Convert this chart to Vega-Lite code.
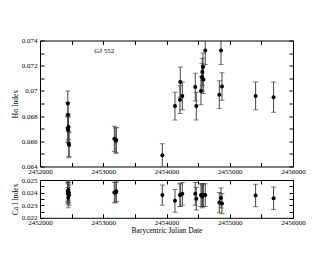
{
  "$schema": "https://vega.github.io/schema/vega-lite/v6.json",
  "autosize": {"type": "pad"},
  "padding": {"left": 10, "top": 35.5, "right": 0, "bottom": 0},
  "background": "white",
  "config": {
    "font": "Liberation Serif",
    "view": {"stroke": "black", "strokeWidth": 1},
    "axis": {"grid": false, "domain": false, "tickColor": "black", "tickSize": -4, "labelFontSize": 7, "labelColor": "black", "titleFontSize": 7.5, "titleFontWeight": "normal", "titleColor": "black", "labelFlush": false, "labelOverlap": false}
  },
  "bounds": "flush",
  "spacing": 13.5,
  "data": {"values": [
    {"date": 2452440, "ha": 0.0690, "ha_err": 0.0010, "ca": 0.0241, "ca_err": 0.0008},
    {"date": 2452442, "ha": 0.0681, "ha_err": 0.0010, "ca": 0.0240, "ca_err": 0.0008},
    {"date": 2452438, "ha": 0.0670, "ha_err": 0.0010, "ca": 0.0239, "ca_err": 0.0008},
    {"date": 2452450, "ha": 0.06715, "ha_err": 0.0010, "ca": 0.0242, "ca_err": 0.0008},
    {"date": 2452446, "ha": 0.0669, "ha_err": 0.0010, "ca": 0.0236, "ca_err": 0.0008},
    {"date": 2452455, "ha": 0.0658, "ha_err": 0.0010, "ca": 0.0240, "ca_err": 0.0008},
    {"date": 2452460, "ha": 0.0657, "ha_err": 0.0010, "ca": 0.0238, "ca_err": 0.0008},
    {"date": 2453175, "ha": 0.0662, "ha_err": 0.0010, "ca": 0.0240, "ca_err": 0.0008},
    {"date": 2453206, "ha": 0.0661, "ha_err": 0.0010, "ca": 0.0241, "ca_err": 0.0008},
    {"date": 2453200, "ha": 0.06605, "ha_err": 0.0010, "ca": 0.0240, "ca_err": 0.0008},
    {"date": 2453934, "ha": 0.0649, "ha_err": 0.0009, "ca": 0.0238, "ca_err": 0.0008},
    {"date": 2454134, "ha": 0.0688, "ha_err": 0.0011, "ca": 0.02335, "ca_err": 0.0009},
    {"date": 2454218, "ha": 0.0707, "ha_err": 0.0012, "ca": 0.0238, "ca_err": 0.0009},
    {"date": 2454213, "ha": 0.0693, "ha_err": 0.0011, "ca": 0.0238, "ca_err": 0.0009},
    {"date": 2454250, "ha": 0.0696, "ha_err": 0.0011, "ca": 0.0239, "ca_err": 0.0009},
    {"date": 2454455, "ha": 0.0703, "ha_err": 0.0011, "ca": 0.0239, "ca_err": 0.0009},
    {"date": 2454471, "ha": 0.0688, "ha_err": 0.0011, "ca": 0.02351, "ca_err": 0.0009},
    {"date": 2454545, "ha": 0.0700, "ha_err": 0.0011, "ca": 0.0238, "ca_err": 0.0009},
    {"date": 2454561, "ha": 0.0711, "ha_err": 0.0011, "ca": 0.0238, "ca_err": 0.0009},
    {"date": 2454566, "ha": 0.0715, "ha_err": 0.0011, "ca": 0.0237, "ca_err": 0.0009},
    {"date": 2454577, "ha": 0.0719, "ha_err": 0.0011, "ca": 0.0238, "ca_err": 0.0009},
    {"date": 2454582, "ha": 0.0709, "ha_err": 0.0011, "ca": 0.0238, "ca_err": 0.0009},
    {"date": 2454613, "ha": 0.0732, "ha_err": 0.0011, "ca": 0.0238, "ca_err": 0.0009},
    {"date": 2454835, "ha": 0.0697, "ha_err": 0.0011, "ca": 0.02321, "ca_err": 0.0008},
    {"date": 2454862, "ha": 0.0732, "ha_err": 0.0011, "ca": 0.02357, "ca_err": 0.0008},
    {"date": 2454877, "ha": 0.07035, "ha_err": 0.0011, "ca": 0.02313, "ca_err": 0.0008},
    {"date": 2455409, "ha": 0.0696, "ha_err": 0.0011, "ca": 0.02377, "ca_err": 0.0009},
    {"date": 2455693, "ha": 0.0695, "ha_err": 0.0012, "ca": 0.02355, "ca_err": 0.0009}
  ]},
  "vconcat": [
    {
      "width": 253,
      "height": 126,
      "layer": [
        {
          "mark": {"type": "errorbar", "ticks": {"size": 5, "color": "#444"}, "color": "#444", "clip": true, "thickness": 1},
          "encoding": {
            "x": {"field": "date", "type": "quantitative", "scale": {"domain": [2452000, 2456000], "nice": false, "zero": false},
              "axis": {"orient": "bottom", "title": null, "values": [2452000, 2452500, 2453000, 2453500, 2454000, 2454500, 2455000, 2455500, 2456000], "labelExpr": "datum.value % 1000 == 0 ? format(datum.value, 'd') : ''", "labelPadding": 5}},
            "y": {"field": "ha", "type": "quantitative", "scale": {"domain": [0.064, 0.074], "nice": false, "zero": false},
              "axis": {"orient": "left", "title": "Hα Index", "values": [0.064, 0.065, 0.066, 0.067, 0.068, 0.069, 0.07, 0.071, 0.072, 0.073, 0.074], "labelExpr": "round(datum.value * 1000) % 2 == 0 ? format(datum.value, '~g') : ''", "labelPadding": 7, "titlePadding": 2}},
            "yError": {"field": "ha_err"}
          }
        },
        {
          "mark": {"type": "point", "filled": true, "color": "black", "size": 16, "opacity": 1, "clip": true},
          "encoding": {
            "x": {"field": "date", "type": "quantitative", "scale": {"domain": [2452000, 2456000], "nice": false, "zero": false},
              "axis": {"orient": "top", "title": null, "labels": false, "values": [2452000, 2452500, 2453000, 2453500, 2454000, 2454500, 2455000, 2455500, 2456000]}},
            "y": {"field": "ha", "type": "quantitative", "scale": {"domain": [0.064, 0.074], "nice": false, "zero": false},
              "axis": {"orient": "right", "title": null, "labels": false, "values": [0.064, 0.065, 0.066, 0.067, 0.068, 0.069, 0.07, 0.071, 0.072, 0.073, 0.074]}}
          }
        },
        {
          "data": {"values": [{"date": 2453017, "val": 0.07313, "label": "GJ 552"}]},
          "mark": {"type": "text", "fontSize": 7, "color": "black"},
          "encoding": {
            "x": {"field": "date", "type": "quantitative", "axis": null},
            "y": {"field": "val", "type": "quantitative", "axis": null},
            "text": {"field": "label"}
          }
        }
      ],
      "resolve": {"axis": {"x": "independent", "y": "independent"}}
    },
    {
      "width": 253,
      "height": 37.8,
      "layer": [
        {
          "mark": {"type": "errorbar", "ticks": {"size": 5, "color": "#444"}, "color": "#444", "clip": true, "thickness": 1},
          "encoding": {
            "x": {"field": "date", "type": "quantitative", "scale": {"domain": [2452000, 2456000], "nice": false, "zero": false},
              "axis": {"orient": "bottom", "title": "Barycentric Julian Date", "values": [2452000, 2452500, 2453000, 2453500, 2454000, 2454500, 2455000, 2455500, 2456000], "labelExpr": "datum.value % 1000 == 0 ? format(datum.value, 'd') : ''", "labelPadding": 5, "titlePadding": 1}},
            "y": {"field": "ca", "type": "quantitative", "scale": {"domain": [0.022, 0.025], "nice": false, "zero": false},
              "axis": {"orient": "left", "title": "Ca I Index", "values": [0.022, 0.0225, 0.023, 0.0235, 0.024, 0.0245, 0.025], "labelExpr": "round(datum.value * 10000) % 10 == 0 ? format(datum.value, '~g') : ''", "labelPadding": 7, "titlePadding": 2}},
            "yError": {"field": "ca_err"}
          }
        },
        {
          "mark": {"type": "point", "filled": true, "color": "black", "size": 16, "opacity": 1, "clip": true},
          "encoding": {
            "x": {"field": "date", "type": "quantitative", "scale": {"domain": [2452000, 2456000], "nice": false, "zero": false},
              "axis": {"orient": "top", "title": null, "labels": false, "values": [2452000, 2452500, 2453000, 2453500, 2454000, 2454500, 2455000, 2455500, 2456000]}},
            "y": {"field": "ca", "type": "quantitative", "scale": {"domain": [0.022, 0.025], "nice": false, "zero": false},
              "axis": {"orient": "right", "title": null, "labels": false, "values": [0.022, 0.0225, 0.023, 0.0235, 0.024, 0.0245, 0.025]}}
          }
        }
      ],
      "resolve": {"axis": {"x": "independent", "y": "independent"}}
    }
  ]
}
